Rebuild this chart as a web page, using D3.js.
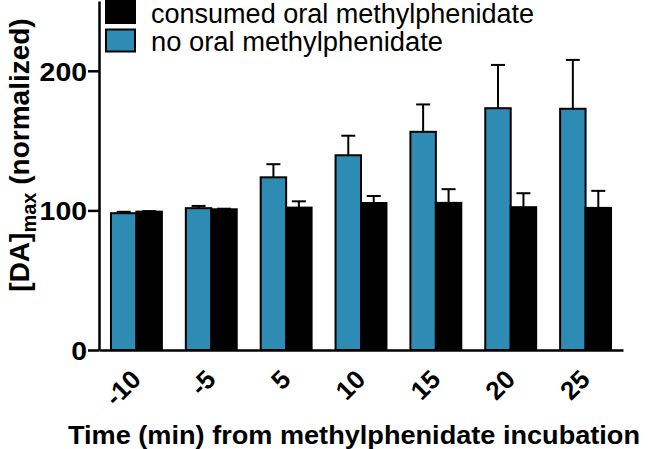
<!DOCTYPE html>
<html><head><meta charset="utf-8">
<script src="https://cdn.jsdelivr.net/npm/d3@7"></script>
<style>body{margin:0;background:#fff}svg{display:block}text{font-family:"Liberation Sans",Arial,sans-serif}</style>
</head><body><svg id="c" width="648" height="449"></svg>
<script>
const categories = ["-10","-5","5","10","15","20","25"];
const seriesNames = ["no oral methylphenidate","consumed oral methylphenidate"];
const noOral = [98, 101.6, 123.7, 139.5, 156.3, 173.2, 172.8];
const noOralErr = [1, 1.6, 9.4, 14, 19.6, 31, 35];
const consumed = [99.1, 100.8, 102, 105.3, 105.4, 102.3, 101.8];
const consumedErr = [0.4, 0.4, 4.5, 5, 9.8, 10, 12.2];
const yTicks = [0, 100, 200];
const colors = {"no oral methylphenidate":"#2e8bb3","consumed oral methylphenidate":"#000000"};

const svg = d3.select("#c");
const x0 = d3.scaleBand().domain(categories).range([99, 623]).paddingInner(0.32).paddingOuter(0.16);
const x1 = d3.scaleBand().domain(seriesNames).range([0, x0.bandwidth()]);
const y = d3.scaleLinear().domain([0, 250]).range([350, 1]);

const rows = categories.map((c,i)=>({c, vals:[
  {s:seriesNames[0], v:noOral[i], e:noOralErr[i]},
  {s:seriesNames[1], v:consumed[i], e:consumedErr[i]}]}));

const g = svg.append("g");
const grp = g.selectAll("g.grp").data(rows).join("g").attr("transform", d=>`translate(${x0(d.c)},0)`);
grp.selectAll("g.err").data(d=>d.vals).join("g").each(function(d){
  const cx = x1(d.s) + x1.bandwidth()/2;
  const s = d3.select(this);
  s.append("line").attr("x1",cx).attr("x2",cx).attr("y1",y(d.v)).attr("y2",y(d.v+d.e)).attr("stroke","#000").attr("stroke-width",2);
  s.append("line").attr("x1",cx-7).attr("x2",cx+7).attr("y1",y(d.v+d.e)).attr("y2",y(d.v+d.e)).attr("stroke","#000").attr("stroke-width",2);
});
grp.selectAll("rect").data(d=>d.vals).join("rect")
  .attr("x", d=>x1(d.s)).attr("width", x1.bandwidth())
  .attr("y", d=>y(d.v)).attr("height", d=>y(0)-y(d.v))
  .attr("fill", d=>colors[d.s]).attr("stroke","#000").attr("stroke-width",2);

// y axis
const ya = svg.append("g").attr("transform","translate(99,0)")
  .call(d3.axisLeft(y).tickValues(yTicks).tickSize(11).tickSizeOuter(0).tickPadding(1));
ya.select(".domain").attr("stroke-width",2.5);
ya.selectAll(".tick line").attr("stroke-width",2.5);
ya.selectAll(".tick text").attr("font-size",26).attr("font-weight","bold").attr("fill","#000")
  .attr("dy","0.36em").attr("textLength", d=>String(d).length*15.8).attr("lengthAdjust","spacingAndGlyphs");

// x axis
const xa = svg.append("g").attr("transform","translate(0,350)")
  .call(d3.axisBottom(x0).tickSize(0).tickSizeOuter(0).tickPadding(0));
xa.select(".domain").attr("stroke-width",2.5);
xa.selectAll(".tick text").attr("font-size",26).attr("font-weight","bold").attr("fill","#000")
  .attr("text-anchor","end").attr("dy",0)
  .attr("transform","translate(6,31) rotate(-45)");

// axis titles
svg.append("text").attr("x",354).attr("y",444).attr("text-anchor","middle")
  .attr("font-size",26).attr("font-weight","bold").attr("textLength",572).attr("lengthAdjust","spacingAndGlyphs")
  .text("Time (min) from methylphenidate incubation");
const yt = svg.append("text").attr("transform","translate(29,155) rotate(-90)").attr("text-anchor","middle")
  .attr("font-size",28).attr("font-weight","bold");
yt.append("tspan").text("[DA]");
yt.append("tspan").attr("font-size",20).attr("dy",7).text("max");
yt.append("tspan").attr("dy",-7).text(" (normalized)");

// legend
const legendOrder = [seriesNames[1], seriesNames[0]];
const lg = svg.append("g").selectAll("g").data(legendOrder).join("g")
  .attr("transform",(d,i)=>`translate(106,${1+i*28.5})`);
lg.append("rect").attr("width",29).attr("height",22).attr("fill",d=>colors[d]).attr("stroke","#000").attr("stroke-width",2);
lg.append("text").attr("x",45).attr("y",21.5).attr("font-size",27)
  .attr("textLength",d=>d.length===29?383:292).attr("lengthAdjust","spacingAndGlyphs").text(d=>d);
</script></body></html>
